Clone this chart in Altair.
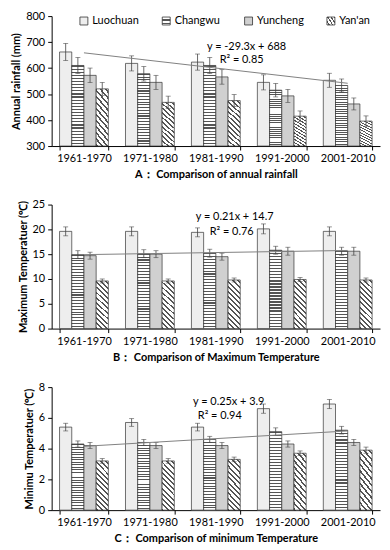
import altair as alt
import pandas as pd

periods = ["1961-1970", "1971-1980", "1981-1990", "1991-2000", "2001-2010"]
sites = ["Luochuan", "Changwu", "Yuncheng", "Yan'an"]

# Panel A: annual rainfall (mm)
rain_luochuan = [662, 618, 623, 545, 553]
rain_changwu = [610, 578, 610, 515, 533]
rain_yuncheng = [572, 545, 566, 493, 462]
rain_yanan = [520, 468, 475, 415, 396]
rain_err_luochuan = [33, 29, 31, 29, 27]
rain_err_changwu = [31, 28, 31, 26, 25]
rain_err_yuncheng = [28, 27, 28, 25, 23]
rain_err_yanan = [25, 24, 23, 20, 20]
rain_trend = [658.7, 541.5]

# Panel B: maximum temperature
tmax_luochuan = [19.6, 19.6, 19.4, 20.1, 19.6]
tmax_changwu = [14.9, 15.1, 15.2, 15.8, 15.6]
tmax_yuncheng = [14.7, 15.0, 14.5, 15.6, 15.6]
tmax_yanan = [9.6, 9.6, 9.8, 9.9, 9.8]
tmax_err_luochuan = [0.9, 0.9, 0.9, 1.0, 0.9]
tmax_err_changwu = [0.8, 0.8, 0.8, 0.8, 0.8]
tmax_err_yuncheng = [0.7, 0.7, 0.7, 0.8, 0.8]
tmax_err_yanan = [0.4, 0.4, 0.4, 0.4, 0.4]
tmax_trend = [14.91, 15.75]

# Panel C: minimum temperature
tmin_luochuan = [5.4, 5.7, 5.4, 6.6, 6.9]
tmin_changwu = [4.3, 4.4, 4.6, 5.1, 5.2]
tmin_yuncheng = [4.2, 4.2, 4.2, 4.3, 4.4]
tmin_yanan = [3.2, 3.2, 3.3, 3.7, 3.9]
tmin_err_luochuan = [0.25, 0.25, 0.25, 0.3, 0.3]
tmin_err_changwu = [0.2, 0.2, 0.2, 0.25, 0.25]
tmin_err_yuncheng = [0.2, 0.2, 0.2, 0.2, 0.2]
tmin_err_yanan = [0.15, 0.15, 0.15, 0.15, 0.2]
tmin_trend = [4.15, 5.15]

trend_periods = ["1961-1970", "2001-2010"]

eq_labels_a = ["y = -29.3x + 688", "R² = 0.85"]
eq_values_a = [680, 631]
eq_labels_b = ["y = 0.21x + 14.7", "R² = 0.76"]
eq_values_b = [22.4, 19.5]
eq_labels_c = ["y = 0.25x + 3.9", "R² = 0.94"]
eq_values_c = [7.0, 6.1]

FONT = "Lato"


def build_df(vals, errs):
    rows = []
    for s, v_list, e_list in zip(sites, vals, errs):
        for p, v, e in zip(periods, v_list, e_list):
            rows.append({"period": p, "site": s, "value": v, "err": e})
    return pd.DataFrame(rows)


def stops_expr(stops):
    return "[" + ",".join("{offset:%.4f,color:'%s'}" % (o, c) for o, c in stops) + "]"


def striped(n, span, frac, dark, light):
    st = []
    for i in range(n):
        a = span * i / n
        b = span * (i + frac) / n
        c = span * (i + 1) / n
        st += [(a, dark), (b, dark), (b, light), (c, light)]
    if span < 1:
        st.append((1.0, light))
    return st


changwu_fill = ("{gradient:'linear',x1:0,y1:0,x2:0,y2:1,stops:"
                + stops_expr(striped(26, 1.0, 0.38, "#555555", "#ffffff")) + "}")
yanan_fill = ("{gradient:'linear',x1:0,y1:1,x2:0.5,y2:-1,stops:"
              + stops_expr(striped(13, 0.65, 0.38, "#555555", "#ffffff")) + "}")

fill_range = ["#eeeeee", alt.ExprRef(changwu_fill), "#d0d0d0", alt.ExprRef(yanan_fill)]


def panel(vals, errs, trend, eq_labels, eq_values, eq_dx, ymin, ymax, ystep,
          ytitle, xtitle, height, legend):
    df = build_df(vals, errs)
    df["lo"] = df["value"] - df["err"]
    df["hi"] = df["value"] + df["err"]
    xscale = alt.Scale(domain=periods, paddingInner=0.26, paddingOuter=0.12)
    xaxis = alt.Axis(title=xtitle, labelAngle=0, tickBand="extent", tickSize=4,
                     labelPadding=3, titlePadding=5, labelFontSize=11,
                     titleFontSize=11, titleFontWeight="bold")
    yscale = alt.Scale(domain=[ymin, ymax], nice=False, zero=False)
    yaxis = alt.Axis(title=ytitle, values=list(range(ymin, ymax + 1, ystep)),
                     tickSize=4, labelPadding=3, titlePadding=4, labelFontSize=11,
                     titleFontSize=11, titleFontWeight="bold", grid=False)
    X = lambda: alt.X("period:N", scale=xscale, axis=xaxis, sort=periods)
    XO = lambda: alt.XOffset("site:N", scale=alt.Scale(domain=sites), sort=sites)
    Yf = lambda f: alt.Y(f + ":Q", scale=yscale, axis=yaxis)

    base = alt.Chart(df)
    bars = base.mark_bar(stroke="#333333", strokeWidth=0.7).encode(
        x=X(), xOffset=XO(), y=Yf("value"), y2=alt.datum(ymin),
        fill=alt.Fill("site:N", scale=alt.Scale(domain=sites, range=fill_range),
                      legend=legend),
    )
    rules = base.mark_rule(color="#444444", strokeWidth=0.8).encode(
        x=X(), xOffset=XO(), y=Yf("lo"), y2="hi:Q")
    cap_lo = base.mark_tick(orient="horizontal", size=5, thickness=0.8,
                            color="#444444").encode(x=X(), xOffset=XO(), y=Yf("lo"))
    cap_hi = base.mark_tick(orient="horizontal", size=5, thickness=0.8,
                            color="#444444").encode(x=X(), xOffset=XO(), y=Yf("hi"))
    tdf = pd.DataFrame({"period": trend_periods, "value": trend})
    tline = alt.Chart(tdf).mark_line(color="#808080", strokeWidth=1).encode(
        x=X(), y=Yf("value"))
    layers = [bars, rules, cap_lo, cap_hi, tline]
    for lab, v, dx in zip(eq_labels, eq_values, eq_dx):
        edf = pd.DataFrame({"period": ["1981-1990"], "value": [v], "label": [lab]})
        layers.append(alt.Chart(edf).mark_text(font=FONT, fontSize=11, color="black",
                                               dx=dx, align="center",
                                               baseline="middle").encode(
            x=X(), y=Yf("value"), text="label:N"))
    return alt.layer(*layers).properties(width=331, height=height)


legend_a = alt.Legend(orient="none", legendX=27, legendY=-1, direction="horizontal",
                      columns=4, title=None, symbolType="square", symbolSize=64,
                      symbolStrokeColor="#333333", symbolStrokeWidth=0.8,
                      labelFont=FONT, labelFontSize=11, labelColor="black",
                      columnPadding=20, gridAlign="all", labelOffset=3)

pa = panel([rain_luochuan, rain_changwu, rain_yuncheng, rain_yanan],
           [rain_err_luochuan, rain_err_changwu, rain_err_yuncheng, rain_err_yanan],
           rain_trend, eq_labels_a, eq_values_a, [31, 26], 300, 800, 100,
           "Annual rainfall (mm)", "A：  Comparison of annual rainfall", 131, legend_a)
pb = panel([tmax_luochuan, tmax_changwu, tmax_yuncheng, tmax_yanan],
           [tmax_err_luochuan, tmax_err_changwu, tmax_err_yuncheng, tmax_err_yanan],
           tmax_trend, eq_labels_b, eq_values_b, [19, 16], 0, 25, 5,
           "Maximum  Temperatuer (℃)", "B：  Comparison of Maximum Temperature", 125, None)
pc = panel([tmin_luochuan, tmin_changwu, tmin_yuncheng, tmin_yanan],
           [tmin_err_luochuan, tmin_err_changwu, tmin_err_yuncheng, tmin_err_yanan],
           tmin_trend, eq_labels_c, eq_values_c, [13, 4], 0, 8, 2,
           "Minimu Temperatuer (℃)", "C：  Comparison of minimum Temperature", 124, None)

chart = alt.vconcat(pa, pb, pc, spacing=19).resolve_scale(fill="independent").properties(
    padding={"left": 2, "top": 0, "right": 2, "bottom": 0}
).configure(font=FONT).configure_axis(
    labelFont=FONT, titleFont=FONT, labelColor="black", titleColor="black",
    domainColor="black", tickColor="black", domainWidth=1,
).configure_view(stroke=None)

chart.save("out.html", embed_options={"renderer": "svg", "actions": False})
